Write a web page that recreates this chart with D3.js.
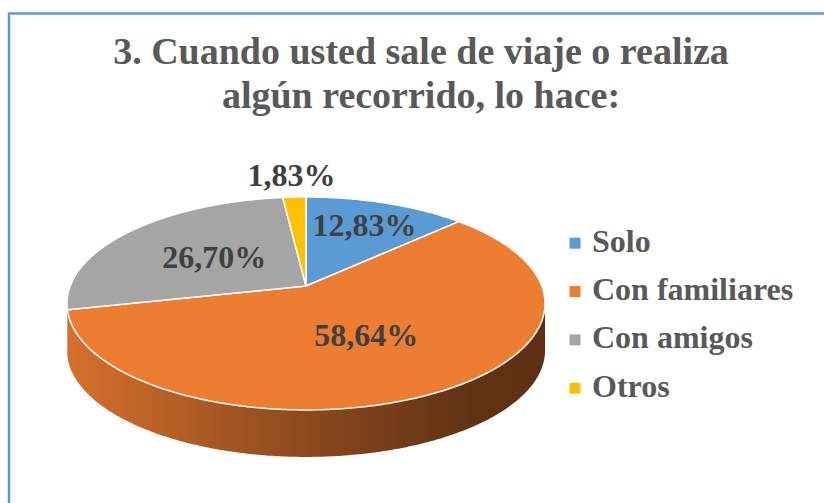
<!DOCTYPE html>
<html lang="es">
<head>
<meta charset="UTF-8">
<title>Viaje</title>
<script src="https://cdn.jsdelivr.net/npm/d3@7"></script>
<style>
  body { margin: 0; background: #fff; }
  svg { display: block; }
  text { font-family: "Liberation Serif", "Times New Roman", serif; font-weight: bold; }
</style>
</head>
<body>
<script>
// datos
const categories = ["Solo", "Con familiares", "Con amigos", "Otros"];
const values = [12.83, 58.64, 26.70, 1.83];
const valueLabels = ["12,83%", "58,64%", "26,70%", "1,83%"];
const colors = ["#5b9bd5", "#ed7d31", "#a5a5a5", "#ffc000"];
const titleLines = ["3. Cuando usted sale de viaje o realiza", "algún recorrido, lo hace:"];

const W = 824, H = 503;
const svg = d3.select("body").append("svg").attr("width", W).attr("height", H);

// marco
svg.append("rect")
  .attr("x", 9).attr("y", 13.5).attr("width", 900).attr("height", 600)
  .attr("fill", "none").attr("stroke", "#5b9bd5").attr("stroke-width", 2.5);

// titulo
svg.append("text")
  .attr("text-anchor", "middle")
  .attr("fill", "#595959")
  .attr("font-size", 38)
  .selectAll("tspan")
  .data(titleLines)
  .join("tspan")
  .attr("x", 421)
  .attr("y", (d, i) => 64 + i * 44)
  .text(d => d);

// pastel 3D con perspectiva
const cx = 306, cy = 286, R = 235.8, Ry = 103.6, k = 0.164, depth = 47;
function proj(a, r, dy) {
  const u = r * Math.sin(a), v = -r * Math.cos(a);
  const d = 1 - k * v;
  return [cx + R * u / d, cy + Ry * v / d + (dy || 0)];
}
function arcPts(a0, a1, dy) {
  const n = Math.max(2, Math.ceil(Math.abs(a1 - a0) / 0.01));
  return d3.range(n + 1).map(i => proj(a0 + (a1 - a0) * i / n, 1, dy));
}

const pie = d3.pie().sort(null).value(d => d)(values);
const line = d3.line();

// limites visibles del costado
const aRight = Math.acos(-k), aLeft = 2 * Math.PI - aRight;

const defs = svg.append("defs");
colors.forEach((c, i) => {
  const g = defs.append("linearGradient")
    .attr("id", "side" + i)
    .attr("gradientUnits", "userSpaceOnUse")
    .attr("x1", cx - R).attr("x2", cx + R).attr("y1", 0).attr("y2", 0);
  [[0, 0.3], [0.5, 1.5], [0.85, 2.5], [1, 2.6]].forEach(([o, dk]) => {
    g.append("stop").attr("offset", o).attr("stop-color", d3.color(c).darker(dk));
  });
});

const sides = svg.append("g");
pie.forEach((p, i) => {
  const s = Math.max(p.startAngle, aRight), e = Math.min(p.endAngle, aLeft);
  if (s >= e) return;
  const pts = arcPts(s, e, 0).concat(arcPts(e, s, depth));
  sides.append("path")
    .attr("d", line(pts) + "Z")
    .attr("fill", `url(#side${i})`);
});

const tops = svg.append("g");
pie.forEach((p, i) => {
  const pts = [[cx, cy]].concat(arcPts(p.startAngle, p.endAngle, 0));
  tops.append("path")
    .attr("d", line(pts) + "Z")
    .attr("fill", colors[i])
    .attr("stroke", "#fff")
    .attr("stroke-width", 1.5)
    .attr("stroke-linejoin", "round");
});

// etiquetas de datos
const labelR = [0.7, 0.5, 0.5, 1.3];
svg.append("g")
  .selectAll("text")
  .data(pie)
  .join("text")
  .attr("text-anchor", "middle")
  .attr("dy", "0.33em")
  .attr("font-size", 32)
  .attr("fill", "#404040")
  .attr("x", (d, i) => proj((d.startAngle + d.endAngle) / 2, labelR[i])[0])
  .attr("y", (d, i) => proj((d.startAngle + d.endAngle) / 2, labelR[i])[1])
  .text((d, i) => valueLabels[i]);

// leyenda
const ly = d3.scalePoint().domain(categories).range([251.7, 396.7]);
const leg = svg.append("g")
  .selectAll("g")
  .data(categories)
  .join("g")
  .attr("transform", d => `translate(0,${ly(d)})`);
leg.append("rect")
  .attr("x", 569.5).attr("y", -14).attr("width", 11).attr("height", 11)
  .attr("fill", (d, i) => colors[i]);
leg.append("text")
  .attr("x", 592)
  .attr("font-size", 32)
  .attr("fill", "#595959")
  .text(d => d);
</script>
</body>
</html>
